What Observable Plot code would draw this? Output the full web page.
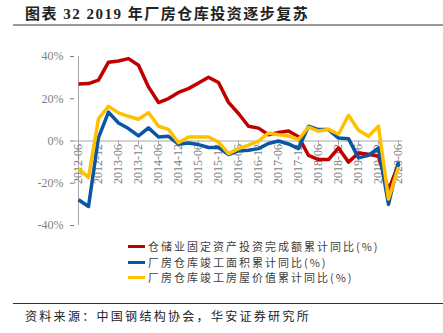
<!DOCTYPE html>
<html><head><meta charset="utf-8">
<script src="https://cdn.jsdelivr.net/npm/d3@7"></script>
<script src="https://cdn.jsdelivr.net/npm/@observablehq/plot@0.6"></script>
<style>
body{margin:0;background:#fff;}
#wrap{position:relative;width:443px;height:333px;overflow:hidden;font-family:"Noto Sans CJK SC",sans-serif;}
#chart{position:absolute;left:0;top:0;}
.title{position:absolute;left:25px;top:7px;font-size:15px;line-height:15px;font-weight:bold;letter-spacing:1.5px;color:#222;white-space:nowrap;font-family:"Liberation Serif","Noto Sans CJK SC",serif;}
.tline{position:absolute;left:13px;right:0;top:24px;height:2px;background:#9a9a9a;}
.legend{position:absolute;left:128px;top:239px;}
.row{display:flex;align-items:center;height:15.5px;white-space:nowrap;}
.sw{width:17px;height:3px;margin-right:3px;}
.lt{font-size:11px;line-height:11px;letter-spacing:2px;color:#404040;}
.sline{position:absolute;left:13px;right:0;top:303px;height:1px;background:#333;}
.source{position:absolute;left:25px;top:310px;font-size:12px;line-height:12px;letter-spacing:2.3px;color:#222;white-space:nowrap;}
</style>
</head><body>
<div id="wrap">
  <div class="title">图表 32 2019 年厂房仓库投资逐步复苏</div>
  <div class="tline"></div>
  <div id="chart"></div>
  <div class="legend" id="legend"></div>
  <div class="sline"></div>
  <div class="source">资料来源：中国钢结构协会，华安证券研究所</div>
</div>
<script>
const quarters = ["2012-06","2012-09","2012-12","2013-03","2013-06","2013-09","2013-12","2014-03","2014-06","2014-09","2014-12","2015-03","2015-06","2015-09","2015-12","2016-03","2016-06","2016-09","2016-12","2017-03","2017-06","2017-09","2017-12","2018-03","2018-06","2018-09","2018-12","2019-03","2019-06","2019-09","2019-12","2020-03","2020-06"];
const xTickLabels = ["2012-06","2012-12","2013-06","2013-12","2014-06","2014-12","2015-06","2015-12","2016-06","2016-12","2017-06","2017-12","2018-06","2018-12","2019-06","2019-12","2020-06"];
const yTicks = [-40, -20, 0, 20, 40];

const seriesNames = ["仓储业固定资产投资完成额累计同比(%)","厂房仓库竣工面积累计同比(%)","厂房仓库竣工房屋价值累计同比(%)"];
const seriesColors = ["#C00000","#0B56A4","#FFC000"];

const warehouseInvest = [27,27.2,28.8,37.3,37.9,39,35.9,25.6,18.2,20.1,23,24.8,27.5,30.2,27.7,18.3,13,7,6.1,3,4,4.7,2,-6.8,-8.8,-8.8,-3.3,-10,-5.7,-6.3,-7.2,-23.2,-11];
const completedArea = [-27.8,-31,1.6,13.7,8.5,5.9,2.4,6.2,1.9,2.2,-1.5,-0.9,-1.7,-3.1,-3.1,-6.4,-4.7,-4.4,-3.6,-1.2,0,-1.4,-3.6,7,5.4,5.4,1.4,1.1,-8,-6.8,-3.3,-30,-9.8];
const completedValue = [-13.1,-17.3,10.6,16.4,13.3,11.7,10.3,13.4,7,5.5,-0.8,1.9,1.9,1.9,-0.5,-6,-3.6,-2,0,3.8,3,2.4,0.7,6.6,4.7,5.5,3.2,12.2,5.1,2.2,7,-27.5,-12.3];

const allSeries = [warehouseInvest, completedArea, completedValue];

const lineMarks = allSeries.map((vals, k) =>
  Plot.line(quarters, {x: d => d, y: (d, i) => vals[i], stroke: seriesColors[k], strokeWidth: 3.5, strokeLinejoin: "round", strokeLinecap: "butt"})
);

const chart = Plot.plot({
  width: 443, height: 333,
  marginLeft: 74, marginRight: 41, marginTop: 56, marginBottom: 108,
  style: {fontFamily: "Liberation Serif, serif", fontSize: "12px", color: "#7f7f7f", background: "transparent"},
  x: {type: "point", domain: quarters, padding: 0, axis: null},
  y: {domain: [-40, 40], ticks: yTicks, tickFormat: d => d + "%", tickSize: 4, tickPadding: 7, label: null},
  marks: [
    Plot.ruleX([quarters[0]], {y1: -40, y2: 40, stroke: "#a6a6a6"}),
    Plot.ruleY([0], {stroke: "#a6a6a6"}),
    Plot.ruleX(xTickLabels, {x: d => d, y1: 0, y2: -2, stroke: "#a6a6a6"}),
    Plot.text(xTickLabels, {x: d => d, y: 0, text: d => d, rotate: -90, textAnchor: "end", dy: 3, fill: "#7f7f7f", fontSize: 12}),
    ...lineMarks
  ]
});
document.getElementById("chart").appendChild(chart);

const legend = document.getElementById("legend");
seriesNames.forEach((name, k) => {
  const row = document.createElement("div");
  row.className = "row";
  row.innerHTML = `<span class="sw" style="background:${seriesColors[k]}"></span><span class="lt">${name}</span>`;
  legend.appendChild(row);
});
</script>
</body></html>
